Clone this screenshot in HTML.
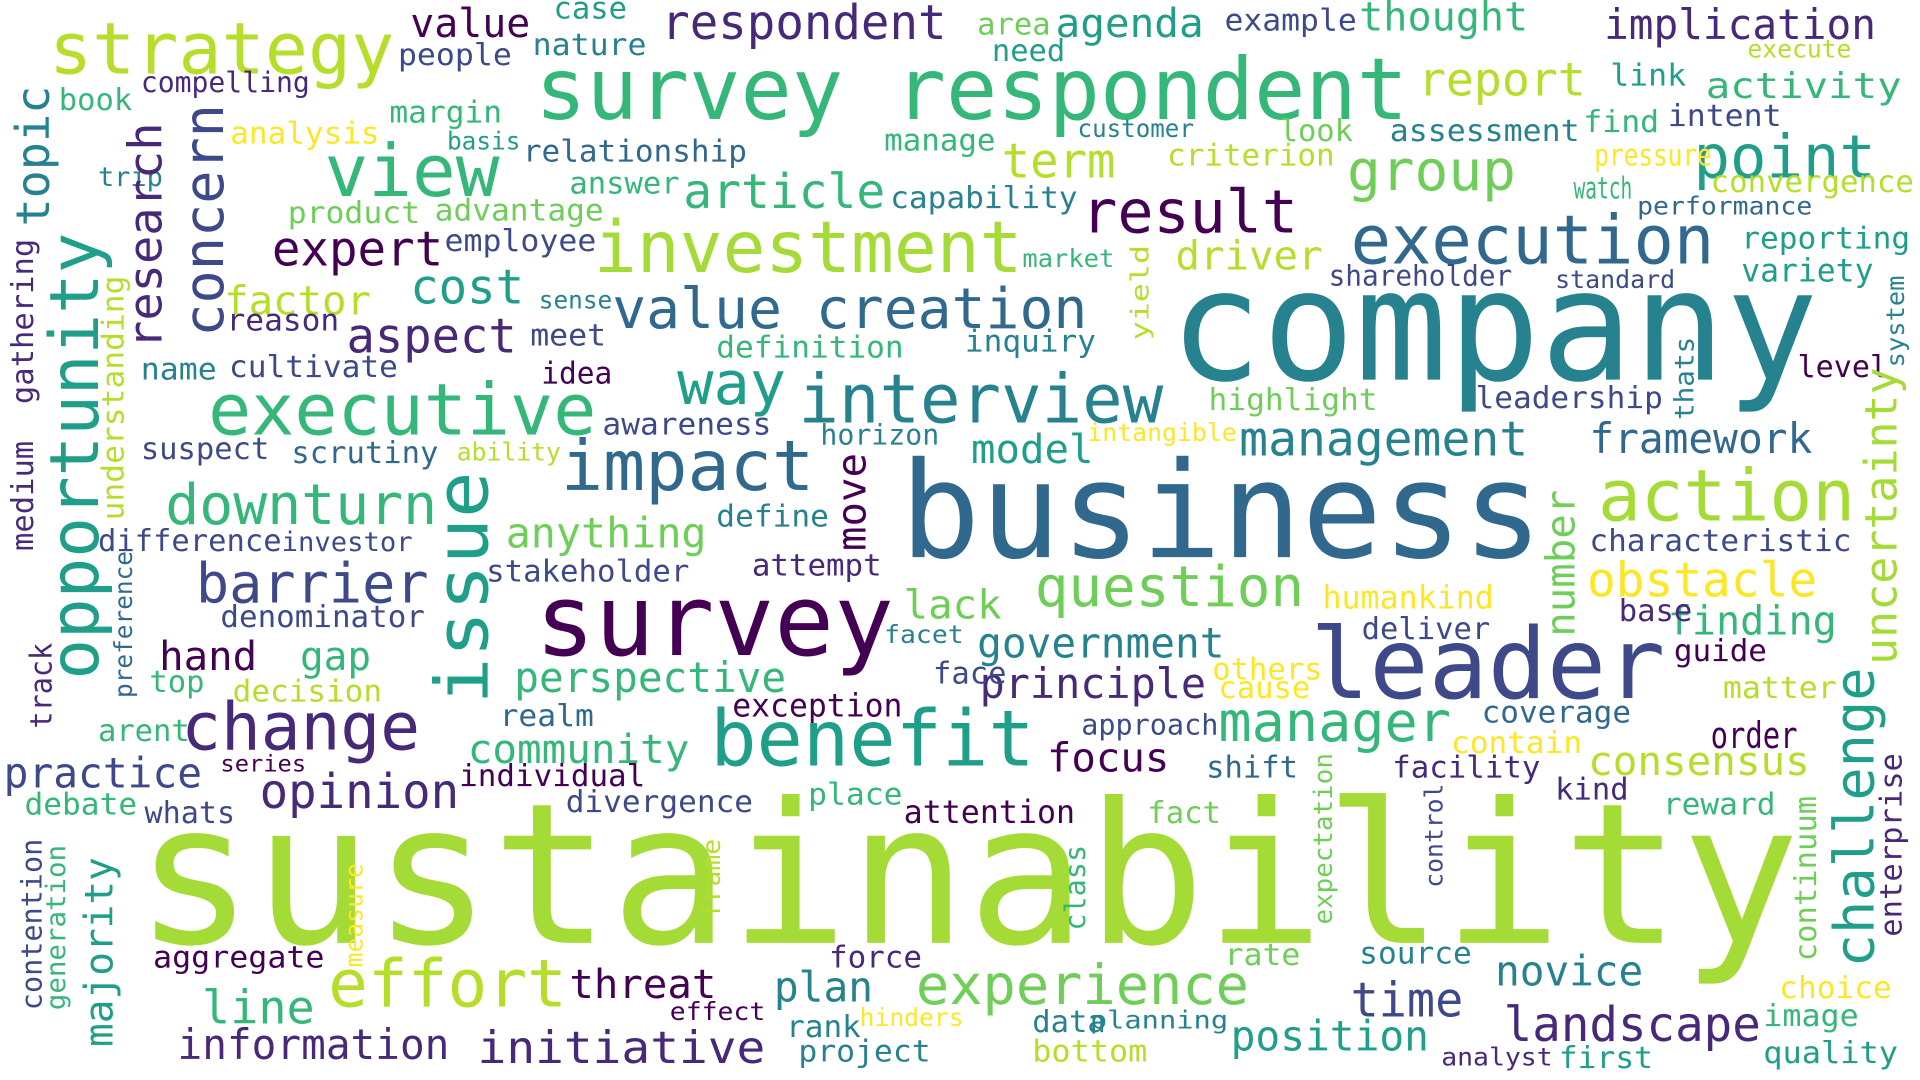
<!DOCTYPE html>
<html><head><meta charset="utf-8"><title>Word cloud</title>
<style>
html,body{margin:0;padding:0;background:#fff;width:1920px;height:1080px;overflow:hidden}
svg text{font-family:"DejaVu Sans Mono","Liberation Mono",monospace}
</style></head>
<body>
<svg id="cloud" width="1920" height="1080" viewBox="0 0 1568 882" preserveAspectRatio="none" xmlns="http://www.w3.org/2000/svg">
<rect width="1568" height="882" fill="#fff"/>
</svg>
<script>
const palette = {a:"#440154",b:"#482878",c:"#3e4989",d:"#31688e",e:"#26828e",f:"#1f9e89",g:"#35b779",h:"#6ece58",i:"#b5de2b",k:"#a5db36",j:"#fde725"};
// [word, x, baseline/bottom, size, color, length, rotated]
const words = [
["sustainability",110,770,160,"k",1360,0],
["company",955,310,126,"e",530,0],
["business",735,455,109,"d",525,0],
["survey respondent",437,97,70,"g",713,0],
["survey",437,535,81,"a",293,0],
["leader",1070,570,80,"c",290,0],
["benefit",580,625,63,"f",265,0],
["investment",485,222,58,"k",350,0],
["executive",170,355,58,"g",317,0],
["interview",652,345,55,"e",298,0],
["impact",458,400,57,"d",207,0],
["execution",1103,215,55,"d",297,0],
["change",148,612,54,"b",195,0],
["action",1305,425,58,"k",210,0],
["effort",268,822,54,"i",195,0],
["experience",748,820,45,"h",272,0],
["strategy",40,60,58,"i",282,0],
["view",265,160,59,"g",143,0],
["result",883,190,49,"a",177,0],
["question",845,495,46,"h",220,0],
["manager",995,605,45,"g",190,0],
["landscape",1228,850,39,"b",210,0],
["point",1383,145,49,"f",149,0],
["group",1100,155,46,"h",138,0],
["report",1158,78,38,"i",137,0],
["respondent",540,32,39,"b",233,0],
["value creation",500,268,46,"d",388,0],
["downturn",135,428,46,"g",222,0],
["barrier",160,492,45,"c",190,0],
["initiative",390,868,36,"b",235,0],
["article",558,170,39,"g",165,0],
["way",553,330,49,"f",89,0],
["cost",335,248,39,"f",93,0],
["expert",222,217,39,"a",140,0],
["aspect",283,288,39,"b",139,0],
["factor",183,257,33,"i",120,0],
["obstacle",1296,487,39,"j",188,0],
["framework",1298,370,34,"d",182,0],
["management",1012,372,39,"e",236,0],
["model",793,378,33,"f",100,0],
["anything",413,447,34,"h",164,0],
["perspective",420,565,34,"g",222,0],
["government",798,537,34,"e",202,0],
["principle",800,570,34,"b",185,0],
["focus",855,630,33,"a",100,0],
["community",382,623,33,"g",181,0],
["opinion",212,660,39,"b",163,0],
["practice",3,643,34,"c",162,0],
["hand",130,547,33,"a",80,0],
["gap",245,547,33,"g",58,0],
["line",165,836,38,"g",92,0],
["threat",465,815,33,"a",120,0],
["information",145,865,34,"b",222,0],
["plan",632,818,34,"e",81,0],
["time",1103,830,39,"c",92,0],
["novice",1221,805,34,"e",121,0],
["position",1005,858,34,"f",162,0],
["consensus",1297,633,33,"i",181,0],
["finding",1362,518,33,"g",138,0],
["order",1397,611,30,"a",71,0],
["implication",1310,32,34,"b",222,0],
["thought",1110,25,33,"g",138,0],
["agenda",862,30,33,"f",121,0],
["activity",1393,80,29,"g",160,0],
["value",335,30,33,"a",98,0],
["term",818,145,39,"i",93,0],
["driver",960,220,33,"i",120,0],
["reporting",1422,203,25,"f",138,0],
["variety",1422,230,26,"f",108,0],
["shareholder",1085,233,23,"c",150,0],
["standard",1270,235,20,"c",98,0],
["leadership",1205,333,25,"c",153,0],
["highlight",987,335,25,"h",138,0],
["level",1468,308,25,"a",74,0],
["characteristic",1298,450,25,"c",214,0],
["humankind",1080,497,26,"j",140,0],
["base",1322,507,25,"b",60,0],
["guide",1367,540,25,"a",76,0],
["deliver",1112,522,25,"c",105,0],
["facet",722,525,20,"e",65,0],
["lack",738,505,33,"h",80,0],
["face",762,558,25,"c",60,0],
["others",990,555,25,"j",90,0],
["cause",995,570,25,"j",75,0],
["exception",598,585,26,"a",139,0],
["coverage",1210,590,25,"d",122,0],
["contain",1185,615,25,"j",107,0],
["approach",883,600,23,"c",112,0],
["shift",985,635,25,"d",75,0],
["facility",1137,635,25,"b",121,0],
["kind",1270,653,25,"b",60,0],
["reward",1358,665,25,"g",92,0],
["matter",1407,570,25,"i",93,0],
["attention",738,672,26,"a",140,0],
["fact",937,672,25,"h",60,0],
["place",660,657,25,"g",77,0],
["divergence",462,663,25,"c",153,0],
["individual",375,642,25,"a",152,0],
["realm",408,593,25,"d",77,0],
["whats",118,672,25,"c",74,0],
["debate",20,665,25,"g",92,0],
["series",180,630,19,"a",70,0],
["arent",80,605,25,"g",75,0],
["top",122,565,25,"g",45,0],
["decision",190,573,25,"i",122,0],
["denominator",180,512,25,"c",167,0],
["stakeholder",397,475,25,"c",166,0],
["attempt",614,470,25,"b",106,0],
["define",585,430,25,"e",92,0],
["difference",80,450,25,"c",150,0],
["investor",230,450,22,"c",107,0],
["suspect",115,375,25,"c",105,0],
["scrutiny",238,378,25,"d",120,0],
["ability",373,376,20,"i",85,0],
["awareness",492,355,25,"c",138,0],
["horizon",670,363,23,"e",97,0],
["intangible",888,360,20,"j",122,0],
["idea",442,313,25,"a",58,0],
["cultivate",187,308,25,"c",138,0],
["name",115,310,25,"e",62,0],
["meet",433,282,25,"c",62,0],
["reason",185,270,25,"b",92,0],
["sense",440,252,20,"e",60,0],
["definition",585,292,25,"g",153,0],
["inquiry",788,287,25,"e",107,0],
["market",835,218,20,"g",75,0],
["employee",363,205,25,"c",124,0],
["advantage",355,180,25,"h",138,0],
["product",235,182,25,"h",108,0],
["capability",727,170,25,"e",153,0],
["answer",465,158,25,"g",90,0],
["relationship",427,132,25,"d",183,0],
["manage",722,123,25,"g",91,0],
["margin",318,100,25,"g",92,0],
["basis",365,122,20,"f",60,0],
["analysis",188,117,25,"j",122,0],
["book",48,90,25,"g",60,0],
["compelling",115,75,23,"b",138,0],
["people",325,53,25,"c",93,0],
["case",452,15,25,"f",60,0],
["nature",435,45,25,"e",93,0],
["need",810,50,25,"f",60,0],
["area",798,28,25,"h",60,0],
["example",1000,25,25,"c",108,0],
["customer",880,112,20,"e",95,0],
["look",1045,115,25,"h",60,0],
["criterion",953,135,25,"i",137,0],
["assessment",1135,115,25,"e",155,0],
["find",1293,108,25,"g",62,0],
["intent",1362,103,25,"c",93,0],
["link",1315,70,25,"f",62,0],
["execute",1427,47,20,"i",85,0],
["pressure",1302,135,25,"j",96,0],
["watch",1285,162,25,"g",48,0],
["convergence",1397,157,25,"i",166,0],
["performance",1337,175,20,"d",143,0],
["trip",80,152,22,"e",53,0],
["source",1110,787,25,"e",92,0],
["rate",1000,788,25,"h",62,0],
["force",677,790,25,"b",76,0],
["effect",547,833,20,"a",78,0],
["rank",642,847,25,"e",61,0],
["hinders",702,838,20,"j",85,0],
["data",843,843,25,"e",60,0],
["planning",890,840,20,"e",113,0],
["project",652,867,25,"e",108,0],
["bottom",843,867,25,"i",94,0],
["analyst",1177,870,20,"b",91,0],
["first",1273,872,25,"f",77,0],
["image",1440,838,25,"g",78,0],
["quality",1440,868,25,"f",110,0],
["choice",1453,815,25,"j",92,0],
["aggregate",125,790,25,"a",140,0],
["opportunity",80,555,55,"f",365,1],
["issue",398,575,60,"f",190,1],
["concern",182,275,45,"c",190,1],
["research",132,285,38,"b",185,1],
["topic",40,185,38,"e",115,1],
["challenge",1530,790,45,"f",245,1],
["uncertainty",1549,543,36,"k",243,1],
["number",1286,520,33,"h",120,1],
["move",707,450,33,"a",80,1],
["gathering",27,330,25,"b",135,1],
["understanding",101,425,25,"i",200,1],
["medium",27,450,25,"b",90,1],
["preference",108,570,20,"d",120,1],
["track",42,595,25,"b",70,1],
["majority",92,855,32,"f",155,1],
["contention",34,825,23,"c",140,1],
["generation",53,825,22,"g",135,1],
["measure",296,790,20,"j",85,1],
["frame",588,750,20,"i",65,1],
["class",886,760,23,"g",70,1],
["control",1178,725,20,"c",85,1],
["expectation",1088,755,21,"h",140,1],
["continuum",1483,785,25,"h",135,1],
["enterprise",1553,765,25,"b",150,1],
["system",1555,300,20,"e",75,1],
["thats",1383,343,22,"e",68,1],
["yield",938,278,20,"i",78,1]
];
const svg = document.getElementById('cloud');
const NS = "http://www.w3.org/2000/svg";
words.forEach(w => {
  const t = document.createElementNS(NS, 'text');
  
  
  t.setAttribute('font-size', w[3]);
  t.setAttribute('fill', palette[w[4]]);
  t.setAttribute('textLength', w[5]);
  t.setAttribute('lengthAdjust', 'spacingAndGlyphs');
  if (w[6]) {
    t.setAttribute('x', 0);
    t.setAttribute('y', 0);
    t.setAttribute('transform', 'translate(' + w[1] + ',' + w[2] + ') rotate(-90)');
  } else {
    t.setAttribute('x', w[1]);
    t.setAttribute('y', w[2]);
  }
  t.textContent = w[0];
  svg.appendChild(t);
});
</script>
</body></html>
